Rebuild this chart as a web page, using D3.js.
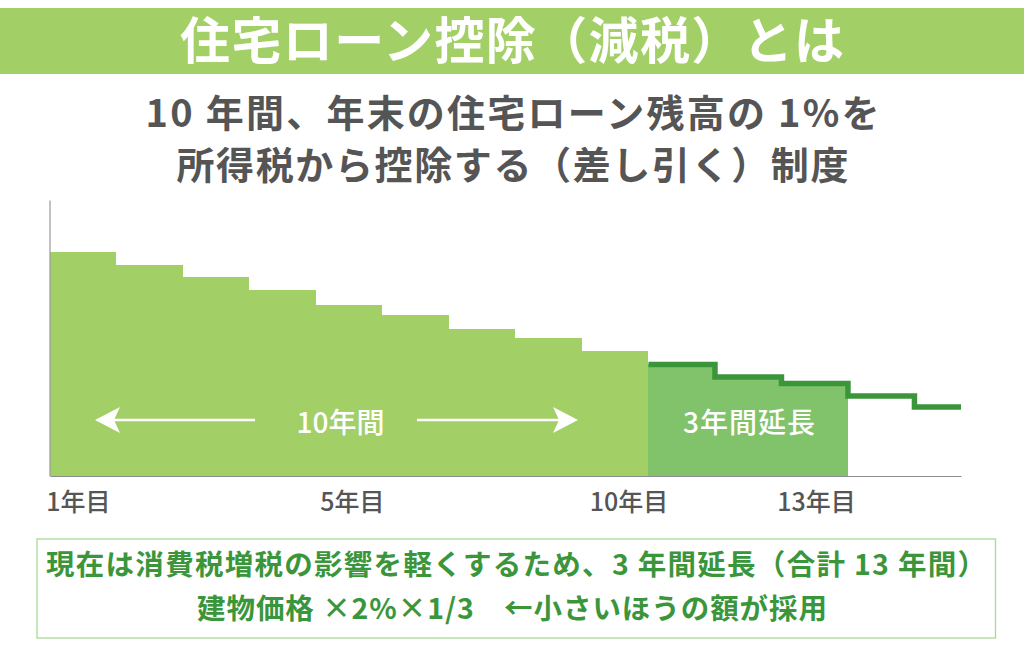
<!DOCTYPE html>
<html lang="ja">
<head>
<meta charset="utf-8">
<script src="https://cdn.jsdelivr.net/npm/d3@7"></script>
<style>
    html, body { margin: 0; padding: 0; background: #fff; }
    text { font-family: "Noto Sans CJK JP", sans-serif; }
</style>
</head>
<body>
<div id="chart"></div>
<script>
// 読み取った値（縦軸は0〜100の相対値）
let balance = [81.2, 76.6, 72.1, 67.4, 62.1, 58.2, 53.3, 50.1, 45.3];
let extension = [40.4, 35.9, 33.5, 29.0, 25.0];
let extensionFilled = 3;
let lastYearEnd = 13.7;
let tickPositions = [0.42, 4.54, 8.7, 11.52];
let tickLabels = ['1年目', '5年目', '10年目', '13年目'];

let titleText = '住宅ローン控除（減税）とは';
let subtitleLines = ['10 年間、年末の住宅ローン残高の 1%を', '所得税から控除する（差し引く）制度'];
let noteLines = ['現在は消費税増税の影響を軽くするため、3 年間延長（合計 13 年間）', '建物価格 ×2%×1/3　←小さいほうの額が採用'];
let spanLabel = '10年間';
let extensionLabel = '3年間延長';

(function () {
    let svg = d3.select('#chart')
        .append('svg')
        .attr('width', 1024)
        .attr('height', 654)
        .style('display', 'block');

    let x = d3.scaleLinear().domain([0, lastYearEnd]).range([50, 961]);
    let y = d3.scaleLinear().domain([0, 100]).range([476, 200]);

    // 見出し
    svg.append('rect')
        .attr('x', 0).attr('y', 8)
        .attr('width', 1024).attr('height', 66)
        .attr('fill', '#a3cf67');

    svg.append('text')
        .attr('x', 512).attr('y', 59)
        .attr('text-anchor', 'middle')
        .attr('font-size', 50)
        .attr('font-weight', 700)
        .attr('textLength', 664)
        .attr('fill', '#fff')
        .text(titleText);

    svg.selectAll('.subtitle')
        .data(subtitleLines)
        .enter()
        .append('text')
        .attr('class', 'subtitle')
        .attr('x', 512.5)
        .attr('y', function (d, i) { return 127 + 52 * i; })
        .attr('text-anchor', 'middle')
        .attr('font-size', 38)
        .attr('font-weight', 700)
        .attr('textLength', function (d, i) { return i === 0 ? 734 : 672; })
        .attr('fill', '#555')
        .text(function (d) { return d; });

    // 棒
    svg.selectAll('.balance')
        .data(balance)
        .enter()
        .append('rect')
        .attr('class', 'balance')
        .attr('x', function (d, i) { return x(i); })
        .attr('y', function (d) { return y(d); })
        .attr('width', function (d, i) { return x(i + 1) - x(i); })
        .attr('height', function (d) { return y(0) - y(d); })
        .attr('fill', '#a3cf67')
        .attr('shape-rendering', 'crispEdges');

    svg.selectAll('.extension')
        .data(extension.slice(0, extensionFilled))
        .enter()
        .append('rect')
        .attr('class', 'extension')
        .attr('x', function (d, i) { return x(balance.length + i); })
        .attr('y', function (d) { return y(d); })
        .attr('width', function (d, i) { return x(balance.length + i + 1) - x(balance.length + i); })
        .attr('height', function (d) { return y(0) - y(d); })
        .attr('fill', '#80c36b')
        .attr('shape-rendering', 'crispEdges');

    // 延長分の階段線
    let stepPoints = extension.map(function (d, i) {
        return [balance.length + i, d];
    });
    stepPoints.push([lastYearEnd, extension[extension.length - 1]]);

    let stepLine = d3.line()
        .x(function (d) { return x(d[0]); })
        .y(function (d) { return y(d[1]); })
        .curve(d3.curveStepAfter);

    svg.append('path')
        .attr('d', stepLine(stepPoints))
        .attr('fill', 'none')
        .attr('stroke', '#3b963b')
        .attr('stroke-width', 5.5);

    // 軸
    let axisX = d3.axisBottom()
        .scale(x)
        .tickValues(tickPositions)
        .tickFormat(function (d, i) { return tickLabels[i]; })
        .tickSize(0)
        .tickPadding(17);

    let axisY = d3.axisLeft()
        .scale(y)
        .tickValues([])
        .tickSize(0);

    let gx = svg.append('g')
        .attr('transform', 'translate(0,' + y(0) + ')')
        .call(axisX);
    gx.select('.domain').attr('stroke', '#8c8c8c').attr('stroke-width', 1.2);
    gx.selectAll('text')
        .attr('font-family', '"Noto Sans CJK JP", sans-serif')
        .attr('font-size', 25)
        .attr('font-weight', 500)
        .attr('fill', '#555');

    let gy = svg.append('g')
        .attr('transform', 'translate(' + (x(0) - 0.5) + ',0)')
        .call(axisY);
    gy.select('.domain').attr('stroke', '#999').attr('stroke-width', 1.2);

    // 10年間の矢印
    let arrowY = y(20.3);
    function arrow(from, to) {
        let dir = to > from ? 1 : -1;
        svg.append('line')
            .attr('x1', from).attr('x2', to - dir * 18)
            .attr('y1', arrowY).attr('y2', arrowY)
            .attr('stroke', '#fff')
            .attr('stroke-width', 2.4);
        let head = d3.path();
        head.moveTo(to, arrowY);
        head.lineTo(to - dir * 25, arrowY - 13);
        head.lineTo(to - dir * 19, arrowY);
        head.lineTo(to - dir * 25, arrowY + 13);
        head.closePath();
        svg.append('path').attr('d', head.toString()).attr('fill', '#fff');
    }
    arrow(255, 95);
    arrow(417, 578);

    svg.append('text')
        .attr('x', 340.5).attr('y', 433)
        .attr('text-anchor', 'middle')
        .attr('font-size', 28)
        .attr('font-weight', 500)
        .attr('fill', '#fff')
        .text(spanLabel);

    svg.append('text')
        .attr('x', 749).attr('y', 433)
        .attr('text-anchor', 'middle')
        .attr('font-size', 28)
        .attr('font-weight', 500)
        .attr('textLength', 132)
        .attr('fill', '#fff')
        .text(extensionLabel);

    // 下の囲み
    svg.append('rect')
        .attr('x', 37).attr('y', 539)
        .attr('width', 958.5).attr('height', 99)
        .attr('fill', '#fff')
        .attr('stroke', '#a9d996')
        .attr('stroke-width', 1.3);

    svg.selectAll('.note')
        .data(noteLines)
        .enter()
        .append('text')
        .attr('class', 'note')
        .attr('x', function (d, i) { return i === 0 ? 516 : 512; })
        .attr('y', function (d, i) { return 575 + 44 * i; })
        .attr('text-anchor', 'middle')
        .attr('font-size', 28.5)
        .attr('font-weight', 700)
        .attr('textLength', function (d, i) { return i === 0 ? 940 : 630; })
        .attr('fill', '#3b963b')
        .text(function (d) { return d; });
})();
</script>
</body>
</html>
